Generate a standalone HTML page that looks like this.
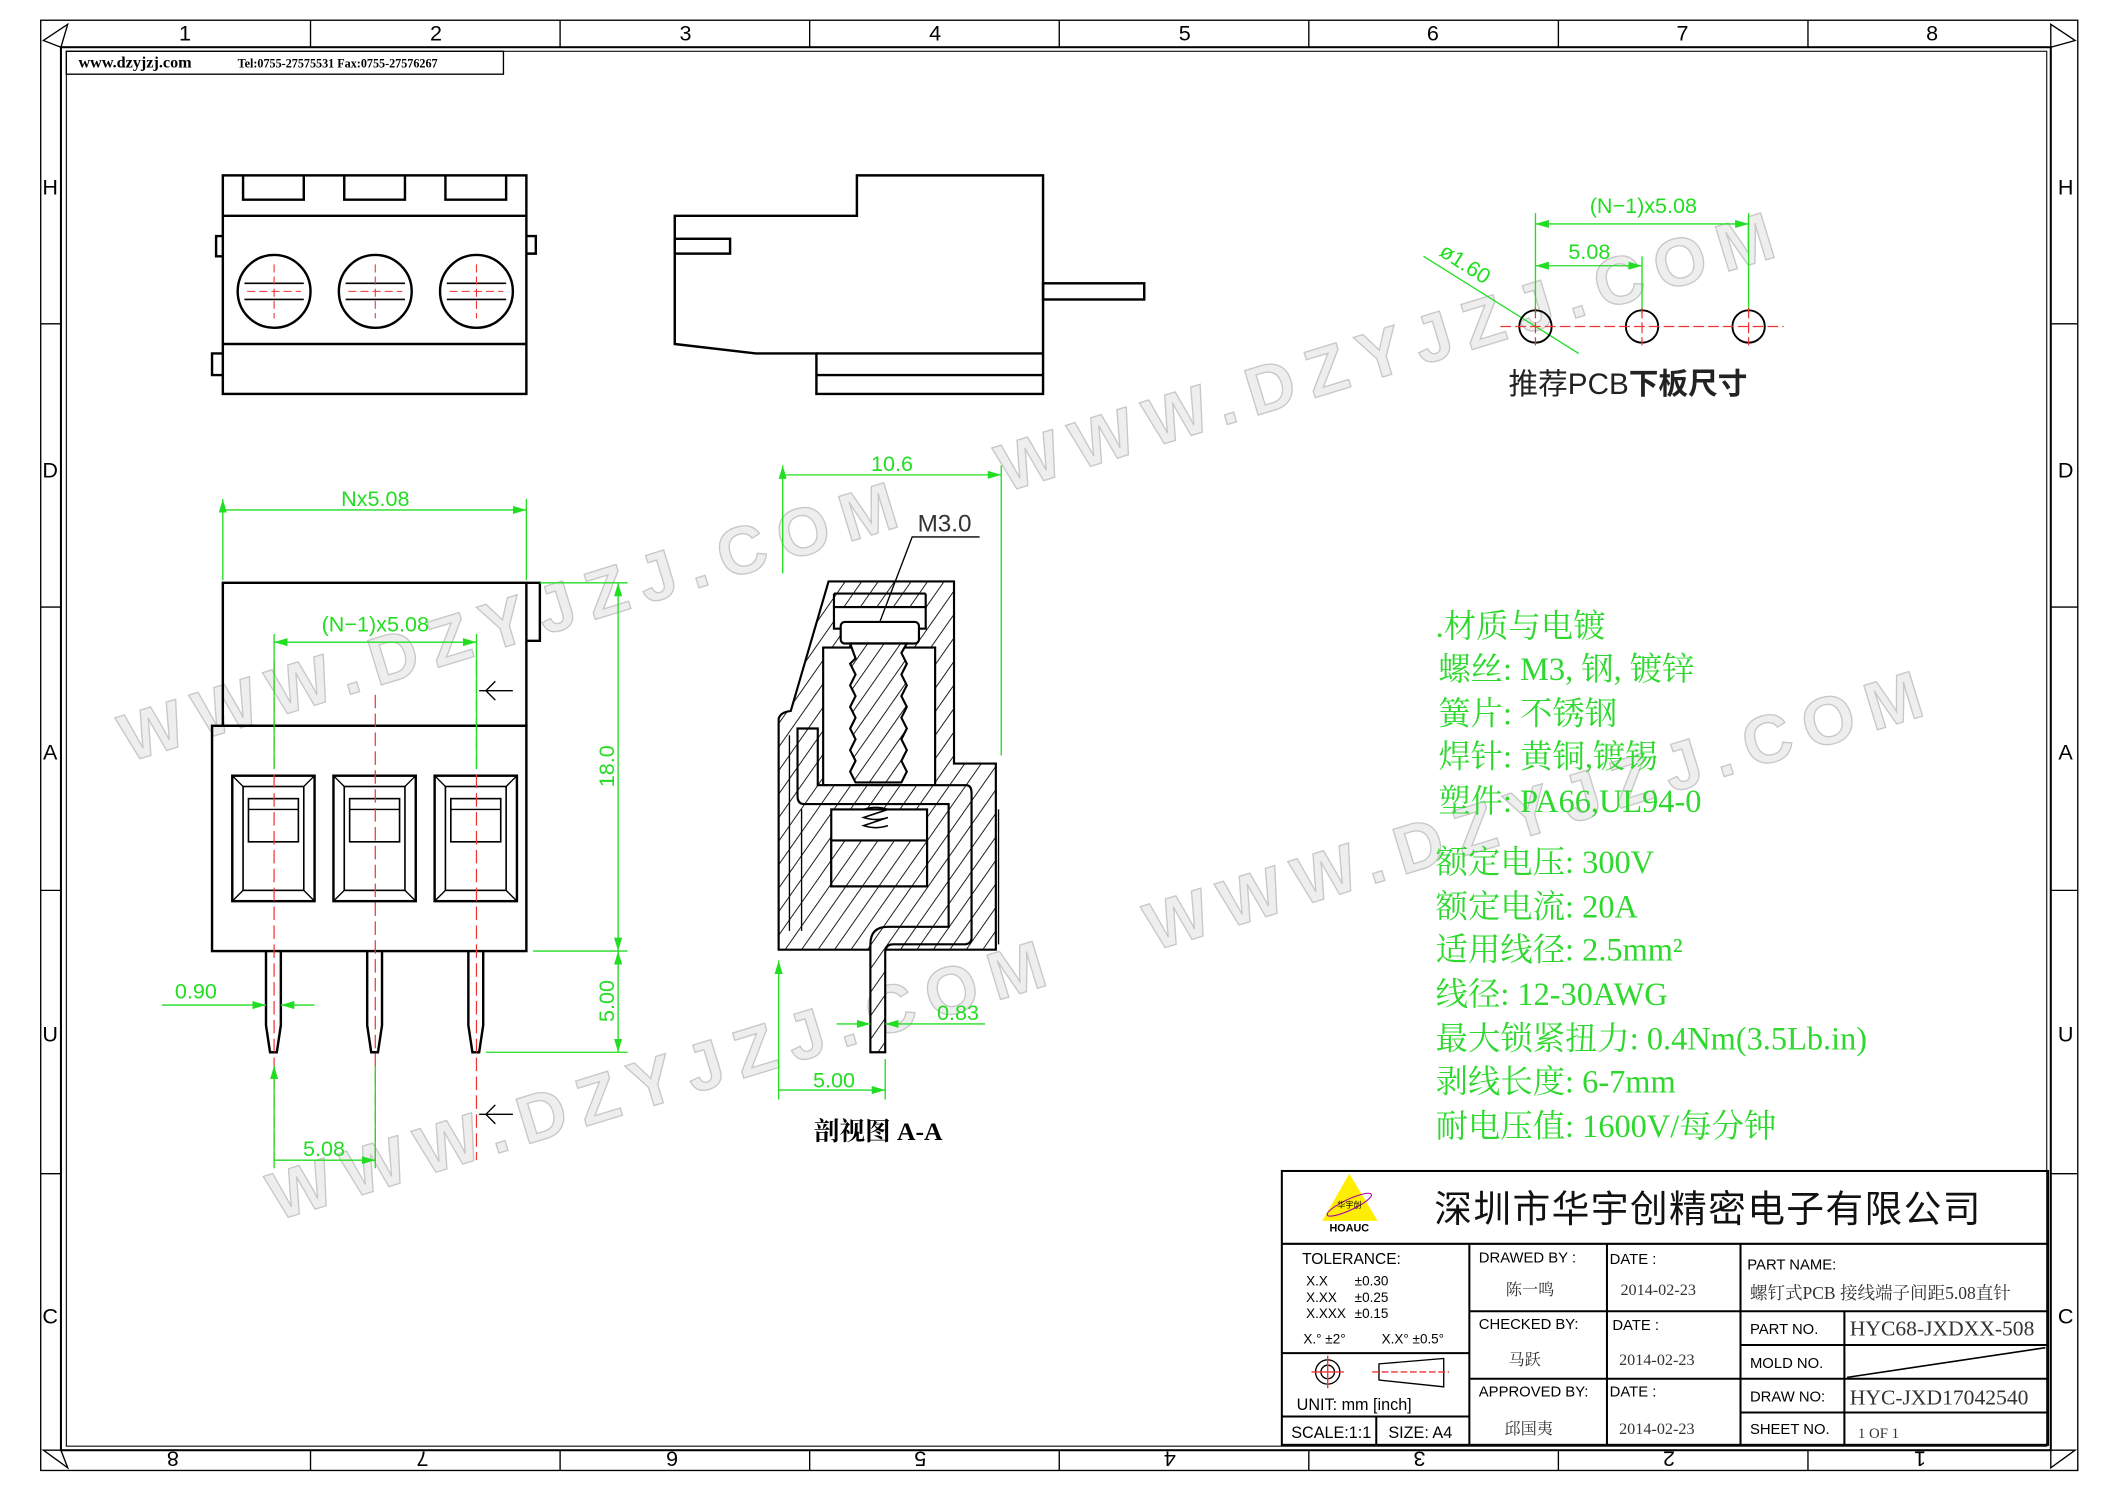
<!DOCTYPE html>
<html><head><meta charset="utf-8"><style>
html,body{margin:0;padding:0;background:#fff;}
svg{display:block;}
.g{fill:#22dd22;font-family:"Liberation Sans",sans-serif;}
.wm{font-family:"Liberation Sans",sans-serif;font-weight:bold;font-size:50px;letter-spacing:10px;fill:#eeeeee;stroke:#c8c8c8;stroke-width:1;}
.sp{fill:#2fd82f;font-family:"Liberation Serif","Noto Serif CJK SC",serif;font-size:24px;}
.tb{font-family:"Liberation Sans",sans-serif;font-size:11px;fill:#000;}
.ts{font-family:"Liberation Serif","Noto Serif CJK SC",serif;fill:#333;}
</style></head><body>
<svg width="2105" height="1488" viewBox="0 0 1560 1103" xmlns="http://www.w3.org/2000/svg">
<defs>
<pattern id="h" patternUnits="userSpaceOnUse" width="10" height="10" patternTransform="rotate(35)">
<rect width="10" height="10" fill="#fff"/><line x1="0" y1="0" x2="0" y2="10" stroke="#000" stroke-width="1.3"/></pattern>
<marker id="a" viewBox="0 0 10 6" refX="10" refY="3" markerWidth="10" markerHeight="6" orient="auto-start-reverse"><path d="M0,0L10,3L0,6z" fill="#22dd22"/></marker>
</defs>
<rect width="1560" height="1103" fill="#fff"/>
<g>
<text class="wm" transform="translate(95,565) rotate(-17)">WWW.DZYJZJ.COM</text>
<text class="wm" transform="translate(205,905) rotate(-17)">WWW.DZYJZJ.COM</text>
<text class="wm" transform="translate(745,365) rotate(-17)">WWW.DZYJZJ.COM</text>
<text class="wm" transform="translate(855,705) rotate(-17)">WWW.DZYJZJ.COM</text>
</g>
<g fill="none" stroke="#000">
<rect x="30" y="15" width="1510" height="1075" stroke-width="1"/>
<rect x="45" y="35" width="1475" height="1040" stroke-width="1.5"/>
<rect x="49" y="38" width="1468" height="1034" stroke-width="0.8"/>
<g stroke-width="1">
<path d="M230,15V35M415,15V35M600,15V35M785,15V35M970,15V35M1155,15V35M1340,15V35"/>
<path d="M230,1075V1090M415,1075V1090M600,1075V1090M785,1075V1090M970,1075V1090M1155,1075V1090M1340,1075V1090"/>
<path d="M30,240H45M30,450H45M30,660H45M30,870H45M1520,240H1540M1520,450H1540M1520,660H1540M1520,870H1540"/>
<path d="M32,30L50,18L45,35z M1538,30L1520,18L1520,35z M32,1075L50,1088L45,1075z M1538,1075L1520,1088L1520,1075z"/>
</g>
<rect x="49" y="38" width="324" height="17" stroke-width="1"/>
</g>
<text x="58" y="50" font-family="Liberation Serif,serif" font-size="12" font-weight="bold">www.dzyjzj.com</text>
<text x="176" y="50" font-family="Liberation Serif,serif" font-size="9" font-weight="bold">Tel:0755-27575531  Fax:0755-27576267</text>
<g font-family="Liberation Sans,sans-serif" font-size="16" text-anchor="middle">
<text x="137" y="30">1</text><text x="323" y="30">2</text><text x="508" y="30">3</text><text x="693" y="30">4</text><text x="878" y="30">5</text><text x="1062" y="30">6</text><text x="1247" y="30">7</text><text x="1432" y="30">8</text>
<g transform="rotate(180 780 1082)">
<text x="137" y="1088">1</text><text x="323" y="1088">2</text><text x="508" y="1088">3</text><text x="693" y="1088">4</text><text x="878" y="1088">5</text><text x="1062" y="1088">6</text><text x="1247" y="1088">7</text><text x="1432" y="1088">8</text></g>
<text x="37" y="144">H</text><text x="37" y="354">D</text><text x="37" y="563">A</text><text x="37" y="772">U</text><text x="37" y="981">C</text>
<text x="1531" y="144">H</text><text x="1531" y="354">D</text><text x="1531" y="563">A</text><text x="1531" y="772">U</text><text x="1531" y="981">C</text>
</g>

<g fill="none" stroke="#000" stroke-width="1.8">
<rect x="165" y="130" width="225" height="162"/>
<path d="M165,160H390M165,255H390M180,130V148H225V130M255,130V148H300V130M330,130V148H375V130"/>
<path d="M165,175H160V190H165M390,175H397V188H390M165,262H157V278H165"/>
<circle cx="203" cy="216" r="27"/><circle cx="278" cy="216" r="27"/><circle cx="353" cy="216" r="27"/>
<path d="M181,210H225M181,222H225M256,210H300M256,222H300M331,210H375M331,222H375" stroke-width="1.2"/>
</g>
<g stroke="#e33" stroke-width="0.8" stroke-dasharray="6,3"><path d="M203,196V236M183,216H223M278,196V236M258,216H298M353,196V236M333,216H373"/></g>
<g fill="none" stroke="#000" stroke-width="1.8">
<path d="M500,160H635V130H773V292H605V262H560L500,255Z"/>
<path d="M605,262H773M605,278H773"/>
<rect x="500" y="177" width="41" height="11"/>
<rect x="773" y="210" width="75" height="12"/>
</g>

<g fill="none" stroke="#000" stroke-width="1.8">
<rect x="165" y="432" width="225" height="106"/>
<rect x="157" y="538" width="233" height="167"/>
<path d="M390,432H400V475H390"/>
<g id="op"><rect x="172" y="575" width="61" height="93"/><rect x="180" y="583" width="45" height="77" stroke-width="1.2"/><path d="M172,575L180,583M233,575L225,583M172,668L180,660M233,668L225,660" stroke-width="1"/><rect x="184" y="592" width="37" height="32" stroke-width="1.2"/><path d="M184,600H221" stroke-width="1"/></g>
<use href="#op" x="75"/><use href="#op" x="150"/>
<g id="pin"><path d="M197,705V760L200,780H205L208,760V705"/></g>
<use href="#pin" x="75"/><use href="#pin" x="150"/>
</g>
<g stroke="#e33" stroke-width="0.9" stroke-dasharray="10,4"><path d="M203,490V860M278,515V860M353,490V860"/></g>
<g stroke="#000" stroke-width="1" fill="none"><path d="M355,512H380M367,505L360,512L367,519M355,826H380M367,819L360,826L367,833"/></g>
<g stroke="#22dd22" stroke-width="1" fill="none">
<path d="M165,370V430M390,370V430M165,378H390" marker-start="url(#a)" marker-end="url(#a)"/>
<path d="M203,470V570M353,470V570"/>
<path d="M203,476H353" marker-start="url(#a)" marker-end="url(#a)"/>
<path d="M400,432H465M395,705H465M360,780H465"/>
<path d="M458,432V705" marker-start="url(#a)" marker-end="url(#a)"/>
<path d="M458,705V780" marker-start="url(#a)" marker-end="url(#a)"/>
<path d="M120,745H197" marker-end="url(#a)"/><path d="M233,745H208" marker-end="url(#a)"/>
<path d="M203,790V866M278,790V866M203,860H278" marker-start="url(#a)" marker-end="url(#a)"/>
</g>
<g class="g" font-size="16" text-anchor="middle">
<text x="278" y="375">Nx5.08</text><text x="278" y="468">(N−1)x5.08</text>
<text transform="translate(455,568) rotate(-90)">18.0</text>
<text transform="translate(455,742) rotate(-90)">5.00</text>
<text x="145" y="740">0.90</text><text x="240" y="857">5.08</text>
</g>

<g stroke="#000" stroke-width="1.6">
<path d="M577,704V533Q578,528 586,527L614,431H707V566H738V704Z" fill="url(#h)"/>
<rect x="610" y="480" width="83" height="102" fill="#fff"/>
<rect x="618" y="450" width="68" height="16" fill="#fff"/>
<path d="M618,450V440M686,450V440M618,440H686" fill="none"/>
<rect x="623" y="461" width="58" height="16" rx="3" fill="#fff"/>
<path d="M630,477L634,488L630,492L634,500L630,508L634,516L630,524L634,532L630,540L634,548L630,556L634,564L630,572L634,580H668L672,572L668,564L672,556L668,548L672,540L668,532L672,524L668,516L672,508L668,500L672,492L668,484L672,477Z" fill="url(#h)"/>
<rect x="616" y="600" width="71" height="57" fill="#fff"/>
<rect x="616" y="623" width="71" height="34" fill="url(#h)"/>
<path d="M591,540H606V582H716Q720,582 720,588V695Q720,700 714,700H662Q656,700 656,706V780H645V700Q645,687 658,687H703V596H596Q591,596 591,590Z" fill="url(#h)"/>
<path d="M585,545V690M594,600V690M740,600V700" fill="none" stroke-width="1"/>
</g>
<g fill="none" stroke="#000" stroke-width="1.2"><path d="M640,600Q649,597 658,600Q649,603 640,606Q649,609 658,606Q649,609 640,612Q649,615 658,612"/></g>
<g stroke="#000" stroke-width="1" fill="none"><path d="M652,461L676,398H726"/></g>
<text x="680" y="394" font-family="Liberation Sans,sans-serif" font-size="18" fill="#333">M3.0</text>
<g stroke="#22dd22" stroke-width="1" fill="none">
<path d="M580,345V425M742,345V560M580,352H742" marker-start="url(#a)" marker-end="url(#a)"/>
<path d="M577,712V815M656,785V815M577,808H656" marker-start="url(#a)" marker-end="url(#a)"/>
<path d="M620,759H645" marker-end="url(#a)"/><path d="M730,759H656" marker-end="url(#a)"/>
</g>
<g class="g" font-size="16" text-anchor="middle">
<text x="661" y="349">10.6</text><text x="618" y="806">5.00</text><text x="710" y="756">0.83</text>
</g>
<text x="603" y="845" font-family="Liberation Serif,'Noto Serif CJK SC',serif" font-size="19" font-weight="bold">剖视图 A-A</text>

<g stroke="#22dd22" stroke-width="1" fill="none">
<path d="M1138,158V232M1217,190V232M1296,158V232"/>
<path d="M1138,166H1296" marker-start="url(#a)" marker-end="url(#a)"/>
<path d="M1138,197H1217" marker-start="url(#a)" marker-end="url(#a)"/>
<path d="M1055,190L1170,262"/>
</g>
<g stroke="#000" stroke-width="1.4" fill="none"><circle cx="1138" cy="242" r="12"/><circle cx="1217" cy="242" r="12"/><circle cx="1296" cy="242" r="12"/></g>
<g stroke="#e33" stroke-width="0.9" stroke-dasharray="8,3"><path d="M1112,242H1322M1138,228V256M1217,228V256M1296,228V256"/></g>
<g class="g" font-size="16" text-anchor="middle"><text x="1218" y="158">(N−1)x5.08</text><text x="1178" y="192">5.08</text>
<text transform="translate(1083,200) rotate(33)">ø1.60</text></g>
<text x="1118" y="292" font-family="Liberation Sans,'Noto Sans CJK SC',sans-serif" font-size="22" fill="#222">推荐PCB<tspan font-weight="bold">下板尺寸</tspan></text>

<g class="sp">
<text x="1064" y="472">.材质与电镀</text>
<text x="1066" y="504">螺丝: M3, 钢, 镀锌</text>
<text x="1066" y="537">簧片: 不锈钢</text>
<text x="1066" y="569">焊针: 黄铜,镀锡</text>
<text x="1066" y="602">塑件: PA66,UL94-0</text>
<text x="1064" y="647">额定电压: 300V</text>
<text x="1064" y="680">额定电流: 20A</text>
<text x="1064" y="712">适用线径: 2.5mm²</text>
<text x="1064" y="745">线径: 12-30AWG</text>
<text x="1064" y="778">最大锁紧扭力: 0.4Nm(3.5Lb.in)</text>
<text x="1064" y="810">剥线长度: 6-7mm</text>
<text x="1064" y="843">耐电压值: 1600V/每分钟</text>
</g>

<g fill="none" stroke="#000" stroke-width="1.5">
<rect x="950" y="868" width="568" height="203"/>
<path d="M950,922H1518M1089,922V1071M1191,922V1071M1290,922V1071M1367,972V1071"/>
<path d="M1089,972H1290M1089,1022H1290M1290,972H1518M1290,997H1518M1290,1022H1518M1290,1047H1518"/>
<path d="M950,1003H1089M950,1050H1089M1020,1050V1071"/>
<path d="M1369,1021L1516,999" stroke-width="1.2"/>
</g>
<path d="M1000,870L980,905H1021Z" fill="#ffee00"/>
<ellipse cx="1000" cy="893" rx="18" ry="4" fill="none" stroke="#a0a" stroke-width="0.8" transform="rotate(-25 1000 893)"/>
<text x="1000" y="895" font-size="6" text-anchor="middle" font-family="'Noto Sans CJK SC',sans-serif">华宇创</text>
<text x="1000" y="913" font-size="8" font-weight="bold" text-anchor="middle" font-family="Liberation Sans,sans-serif">HOAUC</text>
<text x="1063" y="906" font-family="'Noto Sans CJK SC',sans-serif" font-size="28" fill="#111" letter-spacing="1">深圳市华宇创精密电子有限公司</text>
<g class="tb">
<text x="965" y="937" font-size="11.5">TOLERANCE:</text>
<text x="968" y="953" font-size="10">X.X</text><text x="1004" y="953" font-size="10">±0.30</text>
<text x="968" y="965" font-size="10">X.XX</text><text x="1004" y="965" font-size="10">±0.25</text>
<text x="968" y="977" font-size="10">X.XXX</text><text x="1004" y="977" font-size="10">±0.15</text>
<text x="966" y="996" font-size="10">X.° ±2°</text><text x="1024" y="996" font-size="10">X.X° ±0.5°</text>
<text x="961" y="1045" font-size="12">UNIT:  mm  [inch]</text>
<text x="957" y="1066" font-size="12">SCALE:1:1</text><text x="1029" y="1066" font-size="12">SIZE:  A4</text>
<text x="1096" y="936">DRAWED  BY :</text><text x="1193" y="937">DATE  :</text>
<text x="1096" y="985">CHECKED  BY:</text><text x="1195" y="986">DATE  :</text>
<text x="1096" y="1035">APPROVED  BY:</text><text x="1193" y="1035">DATE  :</text>
<text x="1295" y="941">PART  NAME:</text>
<text x="1297" y="989">PART  NO.</text><text x="1297" y="1014">MOLD  NO.</text>
<text x="1297" y="1039">DRAW  NO:</text><text x="1297" y="1063">SHEET  NO.</text>
</g>
<g class="ts" font-size="12">
<text x="1116" y="960">陈一鸣</text><text x="1118" y="1012">马跃</text><text x="1115" y="1063">邱国夷</text>
<text x="1201" y="960">2014-02-23</text><text x="1200" y="1012">2014-02-23</text><text x="1200" y="1063">2014-02-23</text>
<text x="1297" y="963" font-size="13">螺钉式PCB 接线端子间距5.08直针</text>
<text x="1371" y="990" font-size="16">HYC68-JXDXX-508</text>
<text x="1371" y="1041" font-size="16">HYC-JXD17042540</text>
<text x="1377" y="1066" font-size="11">1 OF 1</text>
</g>
<g fill="none" stroke-width="1"><circle cx="984" cy="1017" r="9" stroke="#000"/><circle cx="984" cy="1017" r="5" stroke="#000"/><path d="M972,1017H996M984,1005V1029" stroke="#e33"/>
<path d="M1022,1011L1070,1007V1028L1022,1023Z" stroke="#000"/><path d="M1017,1017H1074" stroke="#e33" stroke-dasharray="5,2"/></g>
</svg>
</body></html>
